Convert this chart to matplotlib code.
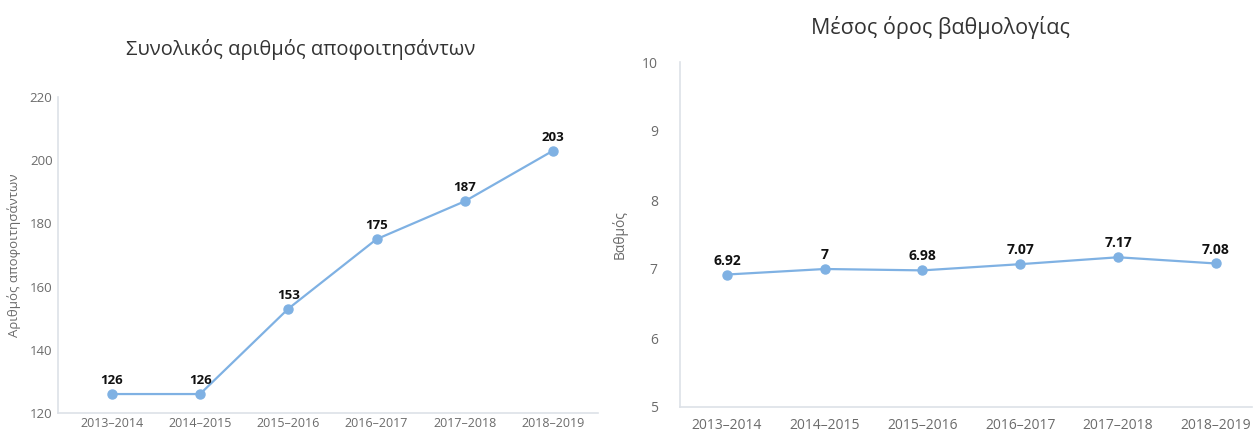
import matplotlib.pyplot as plt

years = ['2013–2014', '2014–2015', '2015–2016', '2016–2017', '2017–2018', '2018–2019']
graduates = [126, 126, 153, 175, 187, 203]
grades = [6.92, 7.0, 6.98, 7.07, 7.17, 7.08]
grade_labels = ['6.92', '7', '6.98', '7.07', '7.17', '7.08']

LINE = '#7fb1e3'
SPINE = '#dde1e7'
TICK = '#6b6b6b'

plt.rcParams['font.family'] = ['Open Sans', 'DejaVu Sans']

fig = plt.figure(figsize=(12.55, 4.32), dpi=100)


def style_axes(ax):
    for s in ['top', 'right']:
        ax.spines[s].set_visible(False)
    for s in ['left', 'bottom']:
        ax.spines[s].set_color(SPINE)
        ax.spines[s].set_linewidth(1.2)
    ax.tick_params(length=0, colors=TICK, labelsize=9.5)
    ax.set_xticks(range(len(years)))
    ax.set_xticklabels(years)


x = range(len(years))

# Left chart: total graduates
ax1 = fig.add_axes([58 / 1255, 19 / 432, 540 / 1255, 316 / 432])
ax1.plot(x, graduates, color=LINE, lw=1.6, marker='o', ms=6.5)
for i, v in enumerate(graduates):
    ax1.annotate(str(v), (i, v), xytext=(0, 5), textcoords='offset points',
                 ha='center', va='bottom', fontsize=9.5, fontweight='bold', color='#111111')
ax1.set_ylim(120, 220)
ax1.set_yticks([120, 140, 160, 180, 200, 220])
ax1.set_xlim(-0.61, 5.51)
style_axes(ax1)
ax1.tick_params(axis='y', pad=4)
ax1.tick_params(axis='x', pad=3, labelsize=9)
ax1.set_ylabel('Αριθμός αποφοιτησάντων', color=TICK, fontsize=9.5, labelpad=6)
ax1.set_title('Συνολικός αριθμός αποφοιτησάντων', fontsize=14.5, color='#333333',
              pad=30, x=0.45)

# Right chart: mean grade
ax2 = fig.add_axes([680 / 1255, 25 / 432, 572 / 1255, 345 / 432])
ax2.plot(x, grades, color=LINE, lw=1.6, marker='o', ms=6.5)
for i, (v, lab) in enumerate(zip(grades, grade_labels)):
    ax2.annotate(lab, (i, v), xytext=(0, 5), textcoords='offset points',
                 ha='center', va='bottom', fontsize=10, fontweight='bold', color='#111111')
ax2.set_ylim(5, 10)
ax2.set_yticks([5, 6, 7, 8, 9, 10])
ax2.set_xlim(-0.48, 5.37)
style_axes(ax2)
ax2.tick_params(axis='y', pad=16, labelsize=10)
ax2.tick_params(axis='x', pad=8, labelsize=10)
ax2.set_ylabel('Βαθμός', color=TICK, fontsize=10, labelpad=10)
ax2.set_title('Μέσος όρος βαθμολογίας', fontsize=15.5, color='#333333', pad=20, x=0.456)

fig.savefig('out.png', dpi=100)
